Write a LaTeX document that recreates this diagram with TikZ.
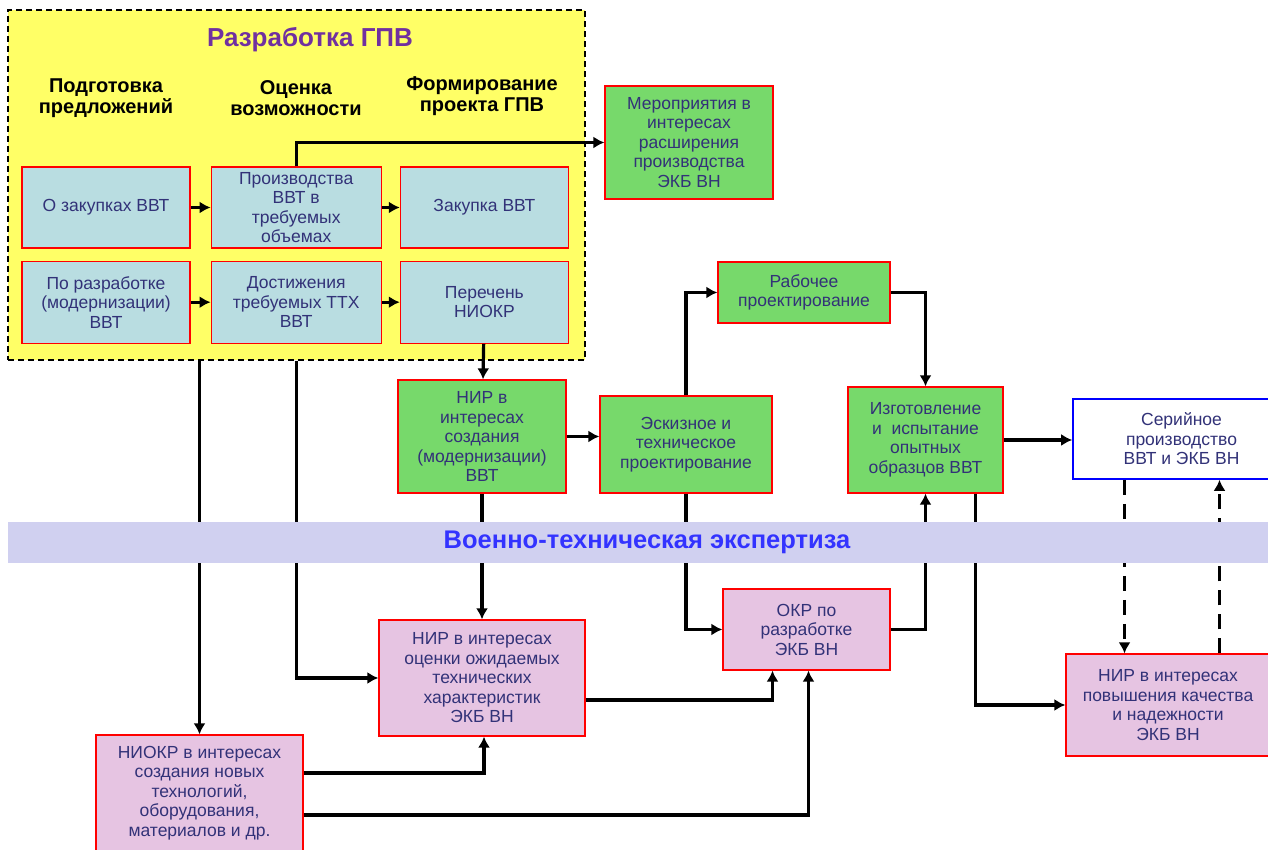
\documentclass[tikz,border=0pt]{standalone}
\usepackage{fontspec}
\setmainfont{Liberation Sans}
\usetikzlibrary{arrows.meta,positioning}
\definecolor{gpvyellow}{RGB}{255,255,102}
\definecolor{boxblue}{RGB}{185,221,225}
\definecolor{boxgreen}{RGB}{119,217,107}
\definecolor{boxpink}{RGB}{230,196,226}
\definecolor{bandlav}{RGB}{208,208,240}
\definecolor{txtnavy}{RGB}{50,50,120}
\definecolor{titlepurple}{RGB}{112,48,160}
\definecolor{bandblue}{RGB}{51,51,255}
\tikzset{
    blk/.style={draw=red, line width=1.2pt, text=txtnavy, align=center,
      font=\fontsize{17.5}{19.5}\selectfont, inner sep=1pt},
    bluebox/.style={blk, fill=boxblue},
    greenbox/.style={blk, fill=boxgreen},
    pinkbox/.style={blk, fill=boxpink},
    sz/.style 2 args={minimum width=#1, minimum height=#2},
    hdr/.style={font=\fontsize{20}{21}\selectfont\bfseries, align=center},
    flow/.style={line width=3.2pt, -{Latex[length=11pt,width=12pt]}},
    back/.style={flow, dash pattern=on 15pt off 9pt},
  }

\begin{document}
\begin{tikzpicture}[x=1pt,y=1pt]
    \useasboundingbox (0,0) rectangle (1268,850);

    %% Разработка ГПВ
    \node[draw, fill=gpvyellow, line width=1.2pt, dash pattern=on 6pt off 4pt,
      sz={577}{350}] (gpv) at (296.5,665) {};
    \node[text=titlepurple, font=\fontsize{26}{28}\selectfont\bfseries] (title) at (310,810) {Разработка ГПВ};
    \node[hdr] (h1) at (106,752) {Подготовка\\предложений};
    \node[hdr] (h2) at (296,752) {Оценка\\возможности};
    \node[hdr] (h3) at (482,754) {Формирование\\проекта ГПВ};

    \node[bluebox, sz={168}{81}] (zak) at (106,642.5) {О закупках ВВТ};
    \node[bluebox, sz={170}{81}, right=20pt of zak] (proizv) {Производства\\ВВТ в\\требуемых\\объемах};
    \node[bluebox, sz={168}{81}, right=18pt of proizv] (zakupka) {Закупка ВВТ};
    \node[bluebox, sz={168}{82}, below=12pt of zak] (razr) {По разработке\\(модернизации)\\ВВТ};
    \node[bluebox, sz={170}{82}, right=20pt of razr] (dost) {Достижения\\требуемых ТТХ\\ВВТ};
    \node[bluebox, sz={168}{82}, right=18pt of dost] (perech) {Перечень\\НИОКР};

    %% зеленые
    \node[greenbox, sz={168}{113}] (merop) at (689,707.5) {Мероприятия в\\интересах\\расширения\\производства\\ЭКБ ВН};
    \node[greenbox, sz={172}{61}] (rab) at (804,557.5) {Рабочее\\проектирование};
    \node[greenbox, sz={168}{113}] (nirsoz) at (482,413.5) {НИР в\\интересах\\создания\\(модернизации)\\ВВТ};
    \node[greenbox, sz={172}{97}] (eskiz) at (686,405.5) {Эскизное и\\техническое\\проектирование};
    \node[greenbox, sz={155}{106}] (izgot) at (925.5,410) {Изготовление\\и~~испытание\\опытных\\образцов ВВТ};
    \node[blk, draw=blue, line width=1.6pt, fill=white, sz={217}{80}] (serial) at (1181.5,411) {Серийное\\производство\\ВВТ и ЭКБ ВН};

    %% розовые
    \node[pinkbox, sz={206}{116}] (ocenka) at (482,172) {НИР в интересах\\оценки ожидаемых\\технических\\характеристик\\ЭКБ ВН};
    \node[pinkbox, sz={167}{81}] (okr) at (806.5,220.5) {ОКР по\\разработке\\ЭКБ ВН};
    \node[pinkbox, sz={204}{102}] (nirpov) at (1168,145) {НИР в интересах\\повышения качества\\и надежности\\ЭКБ ВН};
    \node[pinkbox, sz={207}{116}] (niokr) at (199.5,57) {НИОКР в интересах\\создания новых\\технологий,\\оборудования,\\материалов и др.};

    %% связи
    \draw[flow] (zak) -- (proizv);
    \draw[flow] (proizv) -- (zakupka);
    \draw[flow] (razr) -- (dost);
    \draw[flow] (dost) -- (perech);
    \draw[flow] (proizv.north) |- (merop.west);
    \draw[flow] (perech) -- (nirsoz);
    \draw[flow] (nirsoz.east) -- (nirsoz.east -| eskiz.west);
    \draw[flow] (eskiz.north) |- (rab.west);
    \draw[flow] (rab.east) -| (izgot.north);
    \draw[flow] (izgot.east) -- (izgot.east -| serial.west);
    \draw[back] ([xshift=-57pt]serial.south) -- ([xshift=-57pt]serial.south |- nirpov.north);
    \draw[back] ([xshift=38pt]serial.south |- nirpov.north) -- ([xshift=38pt]serial.south);
    \draw[flow] ([xshift=50pt]izgot.south) |- (nirpov.west);
    \draw[flow] (okr.east) -| (izgot.south);
    \draw[flow] (eskiz.south) |- (okr.west);
    \draw[flow] (nirsoz) -- (ocenka);
    \draw[flow] (proizv.south |- gpv.south) |- (ocenka.west);
    \draw[flow] (niokr.north |- gpv.south) -- (niokr.north);
    \draw[flow] ([yshift=20pt]niokr.east) -| ([xshift=2pt]ocenka.south);
    \draw[flow] ([yshift=-22pt]niokr.east) -| ([xshift=2pt]okr.south);
    \draw[flow] ([yshift=-22pt]ocenka.east) -| ([xshift=-34pt]okr.south);

    %% экспертиза поверх линий
    \node[fill=bandlav, anchor=west, inner sep=0pt, sz={1270}{41}] (band) at (8,307.5) {};
    \node[text=bandblue, font=\fontsize{25.5}{27}\selectfont\bfseries] (vte) at (647,307.5) {Военно-техническая экспертиза};
  \end{tikzpicture}
\end{document}
